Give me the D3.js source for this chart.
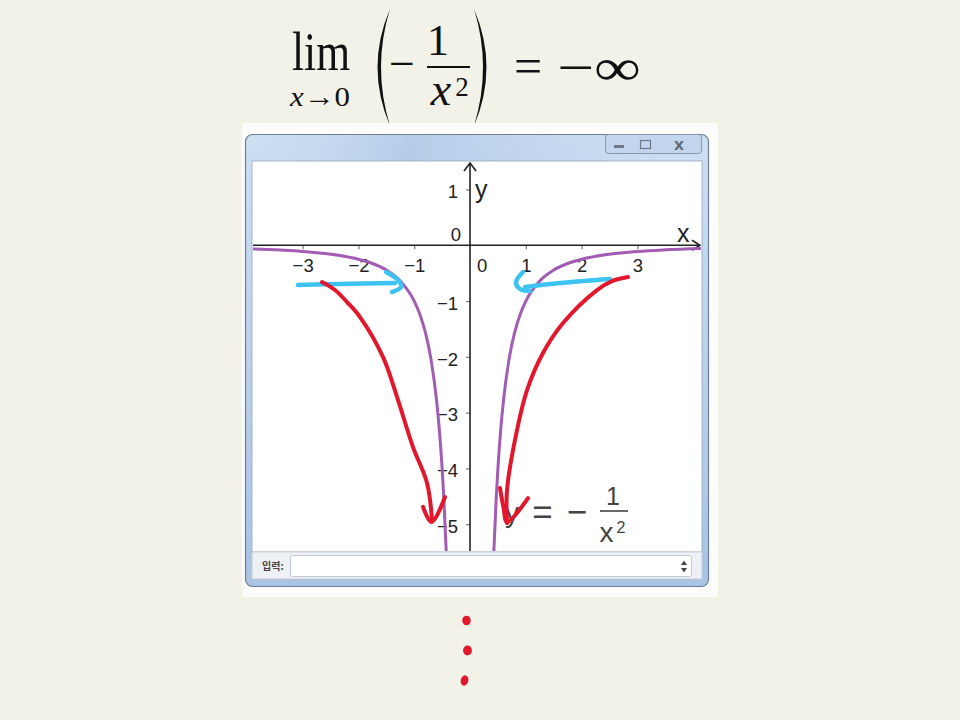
<!DOCTYPE html>
<html><head><meta charset="utf-8">
<script src="https://cdn.jsdelivr.net/npm/d3@7"></script>
<style>
html,body{margin:0;padding:0;background:#f3f2e8;}
svg{display:block;}
</style></head>
<body>
<svg id="chart" width="960" height="720"></svg>
<script>
// ---------- data ----------
const xTickValues = [-3, -2, -1, 1, 2, 3];
const yTickValues = [1, -1, -2, -3, -4, -5];
// y = -1/x^2 sampled (values read/tabulated)
const curveLeftX  = [-3.89, -3.5, -3, -2.5, -2, -1.75, -1.5, -1.25, -1, -0.9, -0.8, -0.7, -0.6, -0.55, -0.5, -0.47, -0.427];
const curveLeftY  = [-0.066, -0.082, -0.111, -0.16, -0.25, -0.327, -0.444, -0.64, -1, -1.235, -1.563, -2.041, -2.778, -3.306, -4, -4.527, -5.48];
const curveRightX = [0.427, 0.47, 0.5, 0.55, 0.6, 0.7, 0.8, 0.9, 1, 1.25, 1.5, 1.75, 2, 2.5, 3, 3.5, 4.14];
const curveRightY = [-5.48, -4.527, -4, -3.306, -2.778, -2.041, -1.563, -1.235, -1, -0.64, -0.444, -0.327, -0.25, -0.16, -0.111, -0.082, -0.058];
// hand-drawn annotations (in graph units)
const redLeft  = [[-2.653,-0.660],[-2.420,-0.803],[-2.205,-1.018],[-1.972,-1.287],[-1.559,-2.004],[-1.308,-2.721],[-1.022,-3.617],[-0.771,-4.262],[-0.681,-4.925]];
const redLeftHead  = [[-0.842,-4.690],[-0.690,-4.961],[-0.448,-4.513]];
const redRight = [[2.832,-0.570],[2.545,-0.642],[2.276,-0.803],[1.667,-1.395],[1.308,-1.932],[1.022,-2.596],[0.842,-3.313],[0.663,-4.388],[0.663,-4.979]];
const redRightHead = [[0.538,-4.352],[0.600,-4.700],[0.663,-4.960],[1.040,-4.531]];
const blueLeft = [[-3.083,-0.712],[-2.330,-0.695],[-1.344,-0.678]];
const blueLeftHook = [[-1.506,-0.480],[-1.273,-0.641],[-1.237,-0.749],[-1.398,-0.839]];
const blueRight = [[2.509,-0.606],[1.613,-0.678],[0.986,-0.749]];
const blueRightHook = [[0.950,-0.480],[0.825,-0.660],[0.896,-0.785],[1.075,-0.821]];

// ---------- setup ----------
const svg = d3.select("#chart");
svg.append("rect").attr("width",960).attr("height",720).attr("fill","#f3f2e8");

// ---------- title (math) ----------
const tg = svg.append("g").attr("font-family","'Liberation Serif','DejaVu Serif',serif").attr("fill","#111");
tg.append("text").attr("x",292).attr("y",70).attr("font-size",54).attr("textLength",58).attr("lengthAdjust","spacingAndGlyphs").text("lim");
tg.append("text").attr("x",290).attr("y",106).attr("font-size",28).attr("textLength",60).attr("lengthAdjust","spacingAndGlyphs")
  .html('<tspan font-style="italic">x</tspan>→0');
tg.append("path").attr("d","M390,9 Q365,67 390,126 Q372,67 390,9 Z");
tg.append("path").attr("d","M474,9 Q499,67 474,126 Q492,67 474,9 Z");
tg.append("text").attr("x",402).attr("y",79).attr("font-size",46).attr("text-anchor","middle").text("−");
tg.append("text").attr("x",438).attr("y",55).attr("font-size",44).attr("text-anchor","middle").text("1");
tg.append("line").attr("x1",427).attr("x2",470).attr("y1",67).attr("y2",67).attr("stroke","#111").attr("stroke-width",2.2);
tg.append("text").attr("x",441).attr("y",105).attr("font-size",46).attr("font-style","italic").attr("text-anchor","middle").text("x");
tg.append("text").attr("x",462).attr("y",96).attr("font-size",27).attr("text-anchor","middle").text("2");
tg.append("text").attr("x",528).attr("y",83).attr("font-size",50).attr("text-anchor","middle").text("=");
tg.append("text").attr("x",557).attr("y",85).attr("font-size",52).attr("textLength",84).attr("lengthAdjust","spacingAndGlyphs").text("−∞");

// ---------- window frame ----------
const defs = svg.append("defs");
const gr = defs.append("linearGradient").attr("id","titleGrad").attr("x1",0).attr("x2",0).attr("y1",0).attr("y2",1);
gr.append("stop").attr("offset","0%").attr("stop-color","#cddff2");
gr.append("stop").attr("offset","100%").attr("stop-color","#a9c3e4");
const gr2 = defs.append("linearGradient").attr("id","titleGradH").attr("x1",0).attr("x2",1).attr("y1",0).attr("y2",0);
gr2.append("stop").attr("offset","0%").attr("stop-color","#bcd3ee").attr("stop-opacity",0.0);
gr2.append("stop").attr("offset","35%").attr("stop-color","#9fbbe0").attr("stop-opacity",0.5);
gr2.append("stop").attr("offset","100%").attr("stop-color","#bcd3ee").attr("stop-opacity",0.0);

svg.append("rect").attr("x",242).attr("y",123).attr("width",476).attr("height",474).attr("fill","#fcfcfb");
svg.append("rect").attr("x",245.5).attr("y",134.5).attr("width",463).attr("height",452).attr("rx",7)
  .attr("fill","url(#titleGrad)").attr("stroke","#6e7f95").attr("stroke-width",1.2);
svg.append("rect").attr("x",246).attr("y",135).attr("width",462).attr("height",26).attr("fill","url(#titleGradH)");
// buttons
svg.append("rect").attr("x",605.5).attr("y",134.5).attr("width",96).attr("height",19).attr("rx",3)
  .attr("fill","#c3d6ee").attr("stroke","#8497b2");
svg.append("rect").attr("x",614).attr("y",145).attr("width",10).attr("height",3).attr("fill","#6b7686");
svg.append("rect").attr("x",640.5).attr("y",140.5).attr("width",10).attr("height",8).attr("fill","none").attr("stroke","#6b7686").attr("stroke-width",1.2);
svg.append("text").attr("x",679).attr("y",150).attr("font-size",13).attr("font-family","'DejaVu Sans',sans-serif")
  .attr("text-anchor","middle").attr("fill","#5d6676").attr("font-weight","bold").text("X");

// plot panel
const PX0 = 252, PX1 = 702, PY0 = 161, PY1 = 552;
svg.append("rect").attr("x",PX0).attr("y",PY0).attr("width",PX1-PX0).attr("height",PY1-PY0).attr("fill","#ffffff").attr("stroke","#9aa6b6").attr("stroke-width",0.8);
// input bar
svg.append("rect").attr("x",PX0).attr("y",PY1).attr("width",PX1-PX0).attr("height",27).attr("fill","#edf0f4").attr("stroke","#c2c8d0").attr("stroke-width",0.8);
svg.append("rect").attr("x",290.5).attr("y",555.5).attr("width",401).attr("height",21).attr("rx",2).attr("fill","#fff").attr("stroke","#c4cad3");
svg.append("text").attr("x",262).attr("y",570).attr("font-size",10).attr("font-weight","bold").attr("font-family","'Noto Sans CJK KR',sans-serif").attr("fill","#444").text("입력:");
svg.append("path").attr("d","M681,565 L684,560.5 L687,565 Z M681,568 L684,572.5 L687,568 Z").attr("fill","#444");

// ---------- graph ----------
const x = d3.scaleLinear().domain([-3.89, 4.14]).range([253, 701]);
const y = d3.scaleLinear().domain([1.51, -5.48]).range([161, 551]);
const x0 = x(0), y0 = y(0);

defs.append("clipPath").attr("id","plotClip").append("rect").attr("x",PX0+1).attr("y",PY0+1).attr("width",PX1-PX0-2).attr("height",PY1-PY0-2);
const g = svg.append("g").attr("clip-path","url(#plotClip)");

const tickFmt = d => d < 0 ? "−" + Math.abs(d) : String(d);
const xAxis = d3.axisBottom(x).tickValues(xTickValues).tickSize(4).tickPadding(10).tickFormat(tickFmt);
const yAxis = d3.axisLeft(y).tickValues(yTickValues).tickSize(4).tickPadding(8).tickFormat(tickFmt);
const gx = g.append("g").attr("transform",`translate(0,${y0})`).call(xAxis);
const gy = g.append("g").attr("transform",`translate(${x0},0)`).call(yAxis);
[gx, gy].forEach(a => {
  a.select(".domain").remove();
  a.selectAll(".tick line").attr("stroke","#777").attr("stroke-width",1.2);
  a.selectAll(".tick text").attr("font-size",18.5).attr("font-family","'Liberation Sans',Arial,sans-serif").attr("fill","#222");
});
gy.selectAll(".tick text").attr("dy","0.45em");

// axis lines with open arrows
const axisStyle = s => s.attr("stroke","#222").attr("stroke-width",1.6).attr("fill","none");
g.append("line").attr("x1",PX0).attr("x2",x.range()[1]-1).attr("y1",y0).attr("y2",y0).call(axisStyle);
g.append("line").attr("x1",x0).attr("x2",x0).attr("y1",PY1).attr("y2",PY0+2).call(axisStyle);
g.append("path").attr("d",`M${x.range()[1]-9},${y0-5} L${x.range()[1]-1},${y0} L${x.range()[1]-9},${y0+5}`).call(axisStyle);
g.append("path").attr("d",`M${x0-6},${PY0+10} L${x0},${PY0+2} L${x0+6},${PY0+10}`).call(axisStyle);

// extra labels
const lab = g.append("g").attr("font-family","'Liberation Sans',Arial,sans-serif").attr("fill","#222");
lab.append("text").attr("x",x0-9).attr("y",y0-4).attr("font-size",18.5).attr("text-anchor","end").text("0");
lab.append("text").attr("x",x0+12).attr("y",y0+27).attr("font-size",18.5).attr("text-anchor","middle").text("0");
lab.append("text").attr("x",x0+5).attr("y",y(1)+9).attr("font-size",25).text("y");
lab.append("text").attr("x",x.range()[1]-24).attr("y",y0-3).attr("font-size",25).text("x");

// function curve
const line = d3.line().x(d => x(d[0])).y(d => y(d[1])).curve(d3.curveMonotoneX);
const leftPts = curveLeftX.map((v,i) => [v, curveLeftY[i]]);
const rightPts = curveRightX.map((v,i) => [v, curveRightY[i]]);
[leftPts, rightPts].forEach(p => g.append("path").attr("d",line(p)).attr("fill","none").attr("stroke","#a35cb4").attr("stroke-width",3));

// function label
const fl = g.append("g").attr("font-family","'Liberation Sans',Arial,sans-serif").attr("fill","#444");
fl.append("text").attr("x",505).attr("y",522).attr("font-size",28).text("y");
fl.append("text").attr("x",542.5).attr("y",524).attr("font-size",35).attr("text-anchor","middle").text("=");
fl.append("text").attr("x",577).attr("y",524).attr("font-size",35).attr("text-anchor","middle").text("−");
fl.append("text").attr("x",613).attr("y",505).attr("font-size",25).attr("text-anchor","middle").text("1");
fl.append("line").attr("x1",600).attr("x2",628).attr("y1",511).attr("y2",511).attr("stroke","#444").attr("stroke-width",1.6);
fl.append("text").attr("x",606.5).attr("y",542).attr("font-size",28).attr("text-anchor","middle").text("x");
fl.append("text").attr("x",621).attr("y",533).attr("font-size",16).attr("text-anchor","middle").text("2");

// hand-drawn annotations
const hand = d3.line().x(d => x(d[0])).y(d => y(d[1])).curve(d3.curveCatmullRom);
const drawHand = (pts, color, w) => g.append("path").attr("d",hand(pts)).attr("fill","none").attr("stroke",color)
  .attr("stroke-width",w).attr("stroke-linecap","round").attr("stroke-linejoin","round");
const BLUE = "#3cc3f2", RED = "#e2172c";
drawHand(blueLeft, BLUE, 4.5);
drawHand(blueLeftHook, BLUE, 4.5);
drawHand(blueRight, BLUE, 4.5);
drawHand(blueRightHook, BLUE, 4.5);
drawHand(redLeft, RED, 4);
drawHand(redLeftHead, RED, 4);
drawHand(redRight, RED, 4);
drawHand(redRightHead, RED, 4);

// ---------- red dots below ----------
svg.append("ellipse").attr("cx",466.5).attr("cy",620.5).attr("rx",4.2).attr("ry",4.8).attr("fill","#e2172c");
svg.append("ellipse").attr("cx",467.5).attr("cy",650.5).attr("rx",4.4).attr("ry",5).attr("fill","#e2172c");
svg.append("ellipse").attr("cx",464.5).attr("cy",680.5).attr("rx",3.8).attr("ry",5.2).attr("fill","#e2172c").attr("transform","rotate(15,464.5,680.5)");
</script>
</body></html>
